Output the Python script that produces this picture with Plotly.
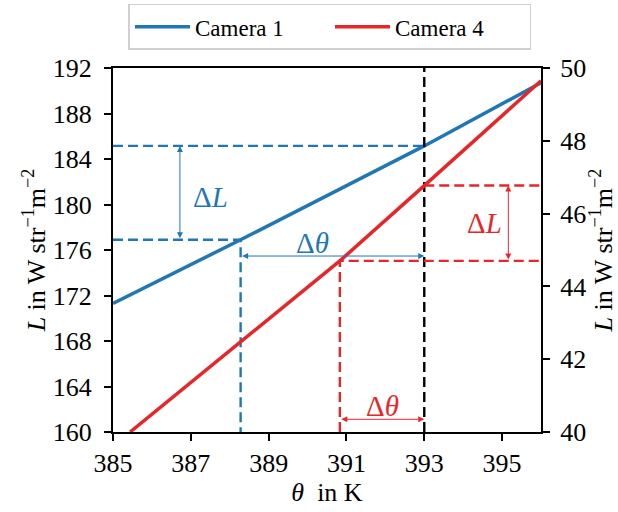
import plotly.graph_objects as go

# Data
theta_cam1 = [385.0, 388.28, 393.0, 396.0]
L_cam1 = [171.3, 176.9, 185.15, 190.7]
theta_cam4 = [385.44, 390.83, 393.0, 396.0]
L_cam4 = [40.0, 44.70, 46.77, 49.65]

# Construction points
th_ref = 393.0
th1_low = 388.28
L1_hi, L1_lo = 185.15, 176.9
th4_low = 390.83
L4_hi, L4_lo = 46.77, 44.70

xlim = [385, 396]
y1lim = [160, 192]
y2lim = [40, 50]

BLUE = "#1f77b4"
RED = "#e8262a"
FONT = "Liberation Serif"
DASH = "10px,5px"

fig = go.Figure()

fig.add_trace(go.Scatter(x=theta_cam1, y=L_cam1, mode="lines", name="Camera 1",
                         line=dict(color=BLUE, width=3.5), yaxis="y"))
fig.add_trace(go.Scatter(x=theta_cam4, y=L_cam4, mode="lines", name="Camera 4",
                         line=dict(color=RED, width=3.5), yaxis="y2"))

# Blue dashed construction
fig.add_trace(go.Scatter(x=[xlim[0], th_ref], y=[L1_hi, L1_hi], mode="lines", showlegend=False,
                         line=dict(color=BLUE, width=2.4, dash=DASH), yaxis="y"))
fig.add_trace(go.Scatter(x=[xlim[0], th1_low, th1_low], y=[L1_lo, L1_lo, y1lim[0]], mode="lines",
                         showlegend=False, line=dict(color=BLUE, width=2.4, dash=DASH), yaxis="y"))
# Red dashed construction
fig.add_trace(go.Scatter(x=[th_ref, xlim[1]], y=[L4_hi, L4_hi], mode="lines", showlegend=False,
                         line=dict(color=RED, width=2.4, dash=DASH), yaxis="y2"))
fig.add_trace(go.Scatter(x=[th4_low, th4_low, xlim[1]], y=[y2lim[0], L4_lo, L4_lo], mode="lines",
                         showlegend=False, line=dict(color=RED, width=2.4, dash=DASH), yaxis="y2"))
# Black vertical
fig.add_trace(go.Scatter(x=[th_ref, th_ref], y=y1lim, mode="lines", showlegend=False,
                         line=dict(color="black", width=2.4, dash=DASH), yaxis="y"))

def dbl_arrow(x0, y0, x1, y1, color, yref):
    fig.add_annotation(x=x1, y=y1, ax=x0, ay=y0, xref="x", yref=yref, axref="x", ayref=yref,
                       showarrow=True, arrowhead=2, startarrowhead=2, arrowside="end+start",
                       arrowsize=1.2, startarrowsize=1.2, arrowwidth=1, arrowcolor=color, text="")

dbl_arrow(386.72, L1_lo, 386.72, L1_hi, BLUE, "y")
dbl_arrow(th1_low, 175.47, th_ref, 175.47, BLUE, "y")
dbl_arrow(395.16, L4_lo, 395.16, L4_hi, RED, "y2")
dbl_arrow(th4_low, 40.35, th_ref, 40.35, RED, "y2")

def label(x, y, txt, color, yref):
    fig.add_annotation(x=x, y=y, xref="x", yref=yref, text=txt, showarrow=False,
                       font=dict(family=FONT, size=29, color=color))

label(387.5, 180.66, "Δ<i>L</i>", BLUE, "y")
label(390.13, 176.6, "Δ<i>θ</i>", BLUE, "y")
label(394.55, 45.74, "Δ<i>L</i>", RED, "y2")
label(391.92, 40.71, "Δ<i>θ</i>", RED, "y2")

axis_common = dict(showline=True, linecolor="black", linewidth=2, ticks="outside", ticklen=7,
                   tickwidth=1.5, tickcolor="black", showgrid=False, zeroline=False,
                   tickfont=dict(family=FONT, size=26, color="black"))

TITLE_Y = "<i>L</i> in W str<sup>−1</sup>m<sup>−2</sup>"
TFONT = dict(family=FONT, size=26, color="black")

fig.update_layout(
    width=618, height=512,
    margin=dict(l=113, r=77, t=68, b=80, autoexpand=False),
    paper_bgcolor="white", plot_bgcolor="white",
    font=dict(family=FONT, color="black"),
    xaxis=dict(range=xlim, tickvals=[385, 387, 389, 391, 393, 395], mirror=True,
               title=dict(text="<i>θ</i>  in K", font=TFONT, standoff=4),
               **axis_common),
    yaxis=dict(range=y1lim, tickvals=list(range(160, 193, 4)), ticklabelstandoff=7,
               title=dict(text=TITLE_Y, font=TFONT, standoff=0),
               **axis_common),
    yaxis2=dict(range=y2lim, tickvals=list(range(40, 51, 2)), overlaying="y", side="right",
                ticklabelstandoff=5,
                title=dict(text=TITLE_Y, font=TFONT, standoff=0),
                **axis_common),
    legend=dict(orientation="h", x=0.507, xanchor="center", y=1.05, yanchor="bottom",
                bordercolor="#d0d0d0", borderwidth=1.5, bgcolor="white",
                font=dict(family=FONT, size=23), itemwidth=55, tracegroupgap=0,
                entrywidth=130, entrywidthmode="pixels"),
    showlegend=True,
)

fig.write_html("out.html")
